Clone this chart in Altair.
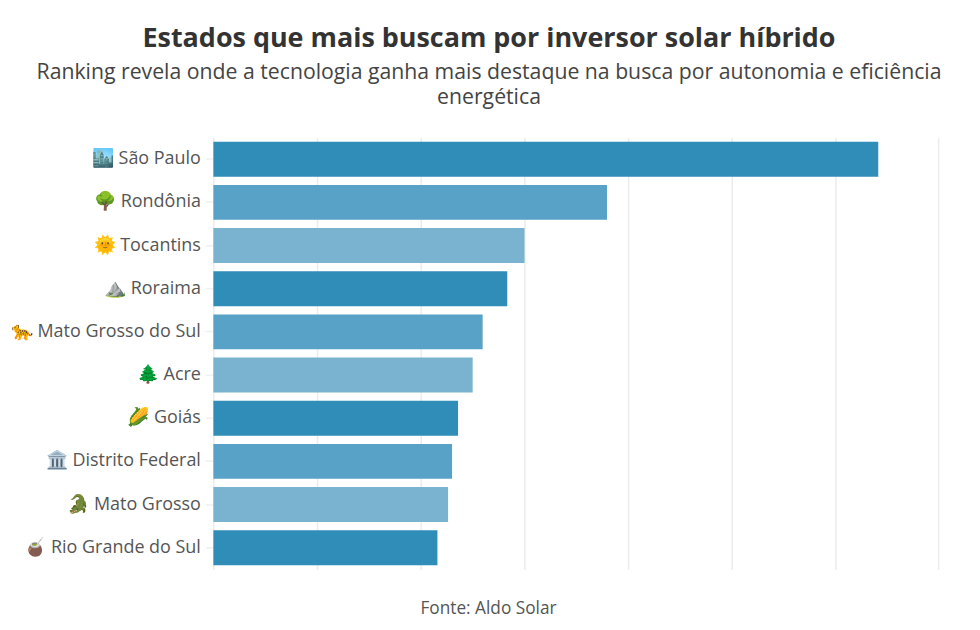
import altair as alt
import pandas as pd

states = ["🏙️ São Paulo", "🌳 Rondônia", "🌞 Tocantins", "⛰️ Roraima", "🐆 Mato Grosso do Sul", "🌲 Acre", "🌽 Goiás", "🏛️ Distrito Federal", "🐊 Mato Grosso", "🧉 Rio Grande do Sul"]
values = [100, 59.2, 46.8, 44.2, 40.5, 39.0, 36.8, 35.9, 35.3, 33.7]
colors = ["#2f8db8", "#58a2c7", "#79b3d0", "#2f8db8", "#58a2c7", "#79b3d0", "#2f8db8", "#58a2c7", "#79b3d0", "#2f8db8"]
title = "Estados que mais buscam por inversor solar híbrido"
subtitle = ["Ranking revela onde a tecnologia ganha mais destaque na busca por autonomia e eficiência", "energética"]
source = "Fonte: Aldo Solar"

df = pd.DataFrame({"state": states, "value": values, "color": colors})
FONT = "Open Sans"

chart = alt.Chart(df).mark_bar(opacity=1, size=35).encode(
    x=alt.X("value:Q", scale=alt.Scale(domain=[0, 109], nice=False),
            axis=alt.Axis(values=[0, 15.6, 31.2, 46.8, 62.4, 78, 93.6, 109], labels=False, ticks=False, domain=False, title=None,
                          gridColor="#ececec", gridWidth=1.5)),
    y=alt.Y("state:N", sort=states, title=None,
            axis=alt.Axis(grid=False, ticks=True, tickSize=8, tickColor="#f0f0f0", tickWidth=1.5, domain=False, labelFont=FONT, labelFontSize=18, labelColor="#555555", labelPadding=5, labelLimit=240)),
    color=alt.Color("color:N", scale=None),
).properties(
    width=727, height=433,
    title=alt.TitleParams(title, subtitle=subtitle, anchor="middle", font=FONT, fontSize=27, fontWeight="bold", color="#333333",
                          subtitleFont=FONT, subtitleFontSize=21.3, subtitleColor="#444444", subtitleLineHeight=25, subtitlePadding=10, offset=28, dx=-87),
)

src = alt.Chart(pd.DataFrame({"t": [source]})).mark_text(font=FONT, fontSize=17.3, color="#555555").encode(
    text="t:N", x=alt.value(276), y=alt.value(473))

final = alt.layer(chart, src).configure_view(stroke=None).properties(padding={"left": 2, "right": 30, "top": 15, "bottom": 40}, background="white")
final.save("out.html", embed_options={"renderer": "svg", "actions": False})
